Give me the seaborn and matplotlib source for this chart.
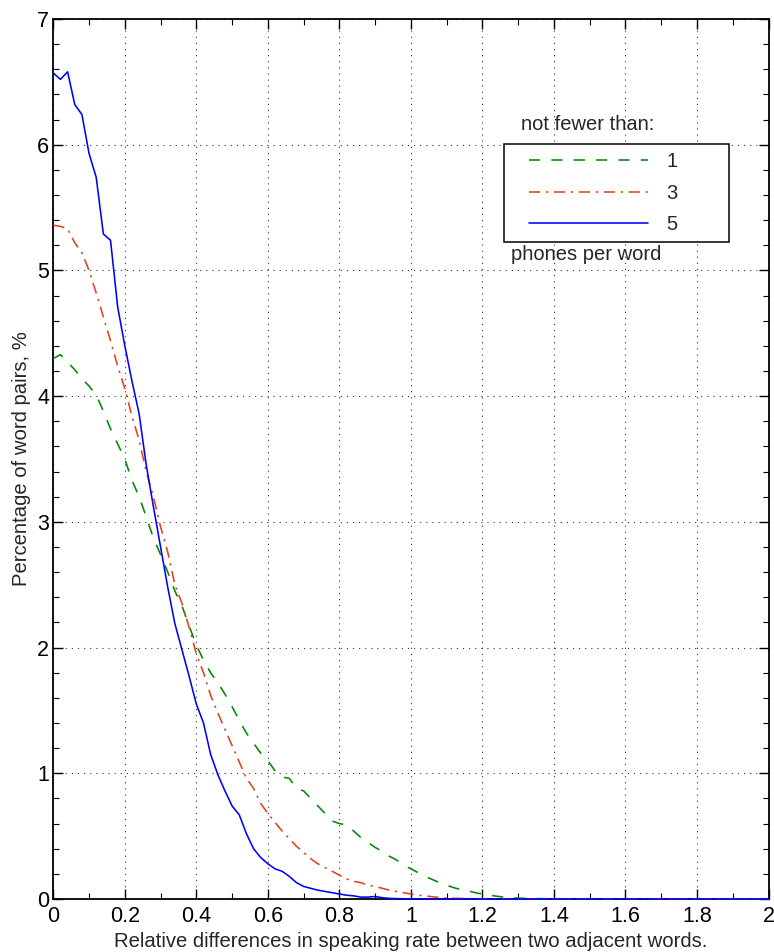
import numpy as np
import pandas as pd
import matplotlib
matplotlib.use("Agg")
import matplotlib.pyplot as plt
import seaborn as sns
from matplotlib.legend_handler import HandlerLine2D
from matplotlib.ticker import MultipleLocator, FormatStrFormatter

# ---------------- data ----------------
x_vals = np.round(np.arange(0, 2.0001, 0.02), 2)

five_phones = [
    6.57, 6.52, 6.58, 6.32, 6.24, 5.93, 5.74, 5.29, 5.24, 4.71,
    4.40, 4.12, 3.86, 3.45, 3.12, 2.80, 2.48, 2.19, 1.98, 1.77,
    1.55, 1.40, 1.15, 0.99, 0.86, 0.74, 0.67, 0.52, 0.40, 0.33,
    0.28, 0.24, 0.22, 0.18, 0.13, 0.10, 0.085, 0.07, 0.06, 0.05,
    0.04, 0.03, 0.025, 0.015, 0.015, 0.02, 0.01, 0.005, 0.003, 0.002,
    0.001, 0, 0, 0, 0, 0, 0, 0, 0, 0,
    0, 0, 0, 0, 0, 0, 0, 0, 0, 0,
    0, 0, 0, 0, 0, 0, 0, 0, 0, 0,
    0, 0, 0, 0, 0, 0, 0, 0, 0, 0,
    0, 0, 0, 0, 0, 0, 0, 0, 0, 0,
    0,
]

three_phones = [
    5.36, 5.35, 5.33, 5.22, 5.14, 5.00, 4.82, 4.63, 4.44, 4.24,
    4.06, 3.84, 3.65, 3.40, 3.20, 2.96, 2.76, 2.50, 2.35, 2.16,
    1.95, 1.80, 1.62, 1.48, 1.35, 1.22, 1.09, 0.96, 0.88, 0.76,
    0.68, 0.61, 0.54, 0.48, 0.42, 0.37, 0.32, 0.28, 0.25, 0.22,
    0.19, 0.16, 0.14, 0.13, 0.11, 0.10, 0.085, 0.07, 0.06, 0.05,
    0.04, 0.03, 0.025, 0.018, 0.012, 0.008, 0.006, 0.005, 0.004, 0.003,
    0.002, 0, 0, 0, 0, 0, 0, 0, 0, 0,
    0, 0, 0, 0, 0, 0, 0, 0, 0, 0,
    0, 0, 0, 0, 0, 0, 0, 0, 0, 0,
    0, 0, 0, 0, 0, 0, 0, 0, 0, 0,
    0,
]

one_phone = [
    4.30, 4.33, 4.27, 4.21, 4.14, 4.08, 4.01, 3.88, 3.74, 3.62,
    3.50, 3.33, 3.20, 3.04, 2.87, 2.74, 2.60, 2.45, 2.33, 2.17,
    2.02, 1.90, 1.80, 1.72, 1.63, 1.53, 1.42, 1.32, 1.24, 1.16,
    1.10, 1.02, 0.97, 0.96, 0.88, 0.86, 0.80, 0.74, 0.68, 0.62,
    0.60, 0.59, 0.54, 0.49, 0.45, 0.41, 0.38, 0.34, 0.31, 0.27,
    0.24, 0.21, 0.18, 0.155, 0.13, 0.11, 0.09, 0.075, 0.065, 0.05,
    0.04, 0.03, 0.022, 0.015, 0.01, 0.007, 0.005, 0.004, 0.003, 0.002,
    0.001, 0, 0, 0, 0, 0, 0, 0, 0, 0,
    0, 0, 0, 0, 0, 0, 0, 0, 0, 0,
    0, 0, 0, 0, 0, 0, 0, 0, 0, 0,
    0,
]

series_labels = ["1", "3", "5"]
x_ticks = [0, 0.2, 0.4, 0.6, 0.8, 1.0, 1.2, 1.4, 1.6, 1.8, 2.0]
y_ticks = [0, 1, 2, 3, 4, 5, 6, 7]

# ---------------- style ----------------
sns.set_theme(style="white")
plt.rcParams["font.family"] = ["Liberation Sans", "DejaVu Sans"]
plt.rcParams["axes.linewidth"] = 1.1

W, H = 774, 952
fig = plt.figure(figsize=(W / 100, H / 100), dpi=100)
ax = fig.add_axes([53.3 / W, 1 - 899 / H, (768.5 - 53.3) / W, (899 - 19) / H])

df = pd.DataFrame({"x": x_vals, "one": one_phone, "three": three_phones, "five": five_phones})

styles = [
    ("one", "#008a00", (0, (7.0, 7.0)), series_labels[0]),
    ("three", "#e8401c", (0, (7.0, 3.6, 1.4, 3.6)), series_labels[1]),
    ("five", "#0000ff", "-", series_labels[2]),
]
for col, color, ls, lab in styles:
    sns.lineplot(data=df, x="x", y=col, ax=ax, color=color, linestyle=ls,
                 linewidth=1.15, label=lab, estimator=None, clip_on=False, zorder=3)

ax.set_xlim(0, 2)
ax.set_ylim(0, 7)
ax.set_xticks(x_ticks)
ax.set_yticks(y_ticks)
ax.xaxis.set_major_formatter(FormatStrFormatter("%g"))
ax.xaxis.set_minor_locator(MultipleLocator(0.1))
ax.yaxis.set_minor_locator(MultipleLocator(0.2))
ax.tick_params(which="both", direction="in", top=True, right=True,
               bottom=True, left=True, colors="black", labelsize=15.5)
ax.tick_params(which="major", length=7, width=1.0)
ax.tick_params(axis="y", which="major", pad=3)
ax.tick_params(axis="x", which="major", pad=5)
ax.tick_params(which="minor", length=4, width=0.8)
ax.grid(True, which="major", color="#333333", linestyle=(0, (1, 4.5)), linewidth=0.8)
for s in ax.spines.values():
    s.set_color("black")
    s.set_linewidth(1.3)

ax.set_xlabel("Relative differences in speaking rate between two adjacent words.",
              fontsize=14.6, labelpad=3.5)
ax.set_ylabel("Percentage of word pairs, %", fontsize=14.6, labelpad=4)

# legend
fs = 14.5
handles = ax.get_lines()[:3]
leg = ax.legend(handles=handles, labels=series_labels,
                loc="lower left",
                bbox_to_anchor=(504 / W, 1 - 241.7 / H, 224.5 / W, 0.2),
                bbox_transform=fig.transFigure, mode="expand",
                borderaxespad=0, fontsize=fs, frameon=True, fancybox=False,
                borderpad=0.4, labelspacing=0.6, handlelength=6.75,
                handletextpad=0.9,
                handler_map={h: HandlerLine2D(xpad=0.83) for h in handles})
leg.get_frame().set_edgecolor("black")
leg.get_frame().set_linewidth(1.1)
leg.get_frame().set_alpha(1)

fig.text(521 / W, 1 - 124 / H, "not fewer than:", fontsize=fs, ha="left", va="center")
fig.text(511 / W, 1 - 255 / H, "phones per word", fontsize=fs, ha="left", va="center")

fig.savefig("out.png", dpi=100)
